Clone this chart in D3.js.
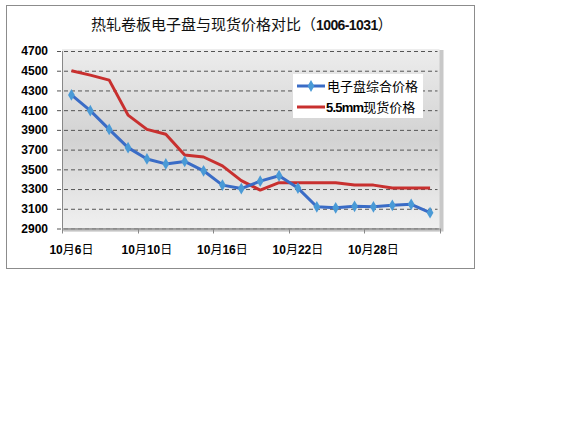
<!DOCTYPE html>
<html>
<head>
<meta charset="utf-8">
<script src="https://cdn.jsdelivr.net/npm/d3@7"></script>
<style>
  body { margin: 0; background: #fff; }
  .cjk { font-family: "Noto Sans CJK SC", sans-serif; }
  .num { font-family: "Liberation Sans", Arial, sans-serif; font-weight: bold; }
</style>
</head>
<body>
<div class="chart"></div>
<script>
var svgWidth = 576;
var svgHeight = 432;

// chart data
var dates = ["10月6日", "10月7日", "10月8日", "10月9日", "10月10日", "10月13日", "10月14日",
  "10月15日", "10月16日", "10月17日", "10月20日", "10月21日", "10月22日", "10月23日",
  "10月24日", "10月27日", "10月28日", "10月29日", "10月30日", "10月31日"];
var panelPrice = [4255, 4095, 3905, 3720, 3605, 3555, 3580, 3485, 3340, 3305,
  3380, 3435, 3310, 3120, 3110, 3125, 3120, 3135, 3145, 3060];
var spotPrice = [4500, 4455, 4405, 4050, 3905, 3855, 3645, 3625, 3535, 3385,
  3290, 3365, 3365, 3365, 3365, 3340, 3340, 3310, 3310, 3310];
var yTicks = [2900, 3100, 3300, 3500, 3700, 3900, 4100, 4300, 4500, 4700];
var xLabelIdx = [0, 4, 8, 12, 16];
var seriesNames = ["电子盘综合价格", "5.5mm现货价格"];

var plot = { left: 62, right: 439.5, top: 51, bottom: 228.5 };

var svg = d3.select(".chart")
  .append("svg")
  .attr("width", svgWidth)
  .attr("height", svgHeight);

// outer frame
svg.append("rect")
  .attr("x", 6.5).attr("y", 5.5)
  .attr("width", 468).attr("height", 263)
  .attr("fill", "#fff")
  .attr("stroke", "#8c8c8c");

// title
var title = svg.append("text")
  .attr("x", 91).attr("y", 30)
  .attr("font-size", 15)
  .attr("fill", "#111");
title.append("tspan").attr("class", "cjk").text("热轧卷板电子盘与现货价格对比（");
title.append("tspan").attr("class", "num").attr("font-size", 14).attr("letter-spacing", -0.6).text("1006-1031");
title.append("tspan").attr("class", "cjk").text("）");

// scales
var x = d3.scaleBand()
  .domain(dates)
  .range([plot.left, plot.right]);

var y = d3.scaleLinear()
  .domain([2900, 4700])
  .range([plot.bottom, plot.top]);

var cx = d => x(d) + x.bandwidth() / 2;

// plot background gradient
var defs = svg.append("defs");
var grad = defs.append("linearGradient")
  .attr("id", "bg").attr("x1", 0).attr("y1", 0).attr("x2", 0).attr("y2", 1);
grad.append("stop").attr("offset", "0%").attr("stop-color", "#ededed");
grad.append("stop").attr("offset", "50%").attr("stop-color", "#d2d2d2");
grad.append("stop").attr("offset", "100%").attr("stop-color", "#f0f0f0");

// soft shadow right / bottom
svg.append("rect")
  .attr("x", plot.left + 2).attr("y", plot.top - 1)
  .attr("width", plot.right - plot.left + 2).attr("height", plot.bottom - plot.top + 4)
  .attr("fill", "#c8c8c8");
svg.append("rect")
  .attr("x", plot.left).attr("y", plot.top - 2)
  .attr("width", plot.right - plot.left).attr("height", plot.bottom - plot.top + 2)
  .attr("fill", "url(#bg)");

// gridlines + y axis labels
var leftAxis = d3.axisLeft(y)
  .tickValues(yTicks)
  .tickSize(-(plot.right - plot.left) + 2)
  .tickPadding(14)
  .tickFormat(d3.format("d"));

var yAxis = svg.append("g")
  .attr("transform", `translate(${plot.left}, 0)`)
  .call(leftAxis);
yAxis.select(".domain").remove();
yAxis.selectAll(".tick line")
  .attr("x1", -5)
  .attr("stroke", "#555")
  .attr("stroke-dasharray", "4,3");
yAxis.selectAll(".tick text")
  .attr("class", "num")
  .attr("font-size", 12)
  .attr("fill", "#000");

// y axis line
svg.append("line")
  .attr("x1", plot.left + 0.5).attr("x2", plot.left + 0.5)
  .attr("y1", plot.top).attr("y2", plot.bottom)
  .attr("stroke", "#888");

// x axis line with ticks every 4 categories
svg.append("line")
  .attr("x1", plot.left).attr("x2", plot.right)
  .attr("y1", plot.bottom + 0.5).attr("y2", plot.bottom + 0.5)
  .attr("stroke", "#888").attr("stroke-width", 1.5);
svg.append("line")
  .attr("x1", plot.left).attr("x2", plot.right)
  .attr("y1", plot.bottom + 2).attr("y2", plot.bottom + 2)
  .attr("stroke", "#c4c4c4").attr("stroke-width", 1.5);

var tickPos = xLabelIdx.map(i => x(dates[i])).concat([plot.right]);
svg.selectAll(".xtick")
  .data(tickPos)
  .enter()
  .append("line")
  .attr("class", "xtick")
  .attr("x1", d => Math.round(d) + 0.5).attr("x2", d => Math.round(d) + 0.5)
  .attr("y1", plot.bottom).attr("y2", plot.bottom + 5)
  .attr("stroke", "#888");

// x labels: digits bold, CJK regular
var xLabels = svg.selectAll(".xlabel")
  .data(xLabelIdx.map(i => dates[i]))
  .enter()
  .append("text")
  .attr("class", "xlabel")
  .attr("x", d => cx(d))
  .attr("y", 254)
  .attr("text-anchor", "middle")
  .attr("font-size", 12)
  .attr("fill", "#000");

xLabels.each(function(d) {
  var parts = d.match(/(\d+)月(\d+)日/);
  var t = d3.select(this);
  t.append("tspan").attr("class", "num").text(parts[1]);
  t.append("tspan").attr("class", "cjk").text("月");
  t.append("tspan").attr("class", "num").text(parts[2]);
  t.append("tspan").attr("class", "cjk").text("日");
});

// lines
var line = d3.line()
  .x((d, i) => cx(dates[i]))
  .y(d => y(d));

svg.append("path")
  .datum(spotPrice)
  .attr("d", line)
  .attr("fill", "none")
  .attr("stroke", "#c8302f")
  .attr("stroke-width", 3)
  .attr("stroke-linejoin", "round");

svg.append("path")
  .datum(panelPrice)
  .attr("d", line)
  .attr("fill", "none")
  .attr("stroke", "#3a6cc6")
  .attr("stroke-width", 3)
  .attr("stroke-linejoin", "round");

var diamond = d3.symbol().type(d3.symbolDiamond).size(40);

svg.selectAll(".marker")
  .data(panelPrice)
  .enter()
  .append("path")
  .attr("class", "marker")
  .attr("d", diamond)
  .attr("transform", (d, i) => `translate(${cx(dates[i])}, ${y(d)})`)
  .attr("fill", "#4a9ad6");

// legend
var legend = svg.append("g");
legend.append("rect")
  .attr("x", 293).attr("y", 74)
  .attr("width", 130).attr("height", 44)
  .attr("fill", "#fff");

legend.append("line")
  .attr("x1", 297).attr("x2", 325).attr("y1", 86).attr("y2", 86)
  .attr("stroke", "#3a6cc6").attr("stroke-width", 3);
legend.append("path")
  .attr("d", diamond)
  .attr("transform", "translate(311, 86)")
  .attr("fill", "#4a9ad6");
legend.append("text")
  .attr("class", "cjk")
  .attr("x", 327).attr("y", 91)
  .attr("font-size", 13)
  .attr("fill", "#000")
  .text(seriesNames[0]);

legend.append("line")
  .attr("x1", 297).attr("x2", 325).attr("y1", 107).attr("y2", 107)
  .attr("stroke", "#c8302f").attr("stroke-width", 3);
var l2 = legend.append("text")
  .attr("x", 326).attr("y", 112)
  .attr("font-size", 13)
  .attr("fill", "#000");
l2.append("tspan").attr("class", "num").attr("letter-spacing", -0.8).text(seriesNames[1].slice(0, 5));
l2.append("tspan").attr("class", "cjk").text(seriesNames[1].slice(5));
</script>
</body>
</html>
